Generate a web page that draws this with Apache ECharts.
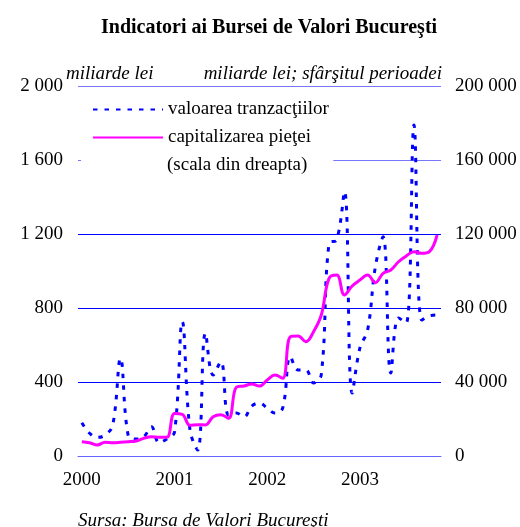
<!DOCTYPE html>
<html><head><meta charset="utf-8">
<script src="https://cdn.jsdelivr.net/npm/echarts@6/dist/echarts.min.js"></script>
<style>html,body{margin:0;padding:0;background:#fff}#c{width:520px;height:527px}</style>
</head><body><div id="c"></div>
<script>
const months = [
  '2000-01','2000-02','2000-03','2000-04','2000-05','2000-06','2000-07','2000-08','2000-09','2000-10','2000-11','2000-12',
  '2001-01','2001-02','2001-03','2001-04','2001-05','2001-06','2001-07','2001-08','2001-09','2001-10','2001-11','2001-12',
  '2002-01','2002-02','2002-03','2002-04','2002-05','2002-06','2002-07','2002-08','2002-09','2002-10','2002-11','2002-12',
  '2003-01','2003-02','2003-03','2003-04','2003-05','2003-06','2003-07','2003-08','2003-09','2003-10','2003-11'
];
// valoarea tranzacţiilor, miliarde lei (left axis)
const tranzactii = [
  180, 123, 101, 113, 168, 528, 110, 92, 103, 158, 72, 92,
  130, 726, 140, 32, 664, 438, 510, 222, 232, 212, 270, 286,
  259, 232, 259, 537, 465, 465, 395, 440, 1150, 1168, 1429, 340,
  584, 681, 1023, 1185, 448, 746, 719, 1789, 735, 757, 762
];
// capitalizarea pieţei, miliarde lei, sfârşitul perioadei (right axis)
const capitalizare = [
  7730, 7200, 5950, 7400, 7200, 7400, 7700, 8100, 9550, 10450, 10100, 10100,
  23000, 22500, 16580, 16940, 16760, 21250, 22340, 20360, 37120, 37840, 38920, 37840,
  41080, 43780, 42000, 64500, 64860, 61800, 67200, 76200, 96000, 97800, 87000, 91900,
  95100, 97800, 93700, 98750, 100540, 105000, 108100, 110450, 109550, 110450, 119460
];
const leftTicks = {0:'0', 400:'400', 800:'800', 1200:'1 200', 1600:'1 600', 2000:'2 000'};
const rightTicks = {0:'0', 40000:'40 000', 80000:'80 000', 120000:'120 000', 160000:'160 000', 200000:'200 000'};
const serif = 'Liberation Serif';

const chart = echarts.init(document.getElementById('c'));
chart.setOption({
  animation: false,
  backgroundColor: '#fff',
  title: [{
    text: 'Indicatori ai Bursei de Valori Bucureşti',
    left: 96, top: 13,
    textStyle: {fontFamily: serif, fontSize: 20, fontWeight: 'bold', color: '#000'}
  }, {
    text: 'Sursa: Bursa de Valori Bucureşti',
    left: 73, top: 506,
    textStyle: {fontFamily: serif, fontSize: 19, fontWeight: 'normal', fontStyle: 'italic', color: '#000'}
  }],
  grid: {left: 78, top: 86, width: 363, height: 370, containLabel: false},
  legend: {
    orient: 'vertical', left: 92, top: 100, padding: 0,
    itemWidth: 70, itemHeight: 14, itemGap: 9,
    itemStyle: {opacity: 0},
    textStyle: {fontFamily: serif, fontSize: 19, color: '#000'},
    data: ['valoarea tranzacţiilor', 'capitalizarea pieţei']
  },
  xAxis: {
    type: 'category', data: months, boundaryGap: true,
    axisLine: {lineStyle: {color: '#6666ff', width: 1}},
    axisTick: {interval: 11, length: 6, lineStyle: {color: '#3333ff'}},
    axisLabel: {interval: 11, margin: 15, fontFamily: serif, fontSize: 19, color: '#000',
      formatter: v => v.slice(0, 4)},
    splitLine: {show: false}
  },
  yAxis: [{
    type: 'value', min: 0, max: 2000, interval: 400,
    axisLine: {show: false}, axisTick: {show: false},
    axisLabel: {margin: 15, fontFamily: serif, fontSize: 19, color: '#000', formatter: v => leftTicks[v]},
    splitLine: {lineStyle: {width: 1, color: ['#7777ff', '#0000ff', '#0000ff', '#0000ff', '#7777ff', '#7777ff']}}
  }, {
    type: 'value', min: 0, max: 200000, interval: 40000,
    axisLine: {show: false}, axisTick: {show: false},
    axisLabel: {margin: 14, fontFamily: serif, fontSize: 19, color: '#000', formatter: v => rightTicks[v]},
    splitLine: {show: false}
  }],
  graphic: [{
    type: 'text', left: 66, top: 64, z: 10,
    style: {text: 'miliarde lei', font: 'italic 19px "Liberation Serif"', fill: '#000'}
  }, {
    type: 'text', right: 78, top: 64, z: 10,
    style: {text: 'miliarde lei; sfârşitul perioadei', font: 'italic 19px "Liberation Serif"', fill: '#000'}
  }, {
    type: 'text', left: 81, top: 154, z: 10,
    style: {text: '(scala din dreapta)', font: '19px "Liberation Serif"', fill: '#000',
      backgroundColor: '#fff', padding: [2, 26, 4, 86]}
  }],
  series: [{
    name: 'valoarea tranzacţiilor', type: 'line', yAxisIndex: 0, data: tranzactii,
    symbol: 'none', smooth: 0.4,
    lineStyle: {color: '#0000ff', width: 3, type: [4.5, 7]},
    itemStyle: {color: '#0000ff'}
  }, {
    name: 'capitalizarea pieţei', type: 'line', yAxisIndex: 1, data: capitalizare,
    symbol: 'none', smooth: 0.4,
    lineStyle: {color: '#ff00ff', width: 3},
    itemStyle: {color: '#ff00ff'}
  }]
});
</script></body></html>
